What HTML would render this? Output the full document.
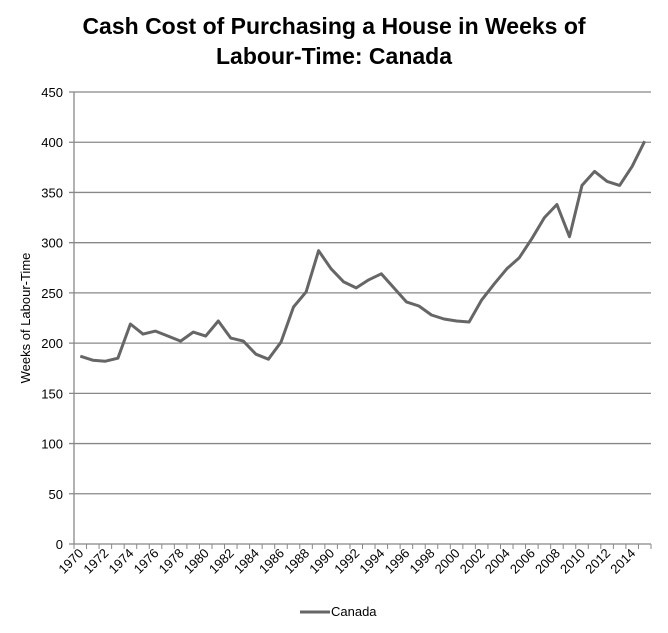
<!DOCTYPE html><html><head><style>body{margin:0;background:#fff}svg text{font-family:"Liberation Sans",sans-serif}</style></head><body>
<svg width="668" height="628" xmlns="http://www.w3.org/2000/svg">
<text x="334" y="34" text-anchor="middle" font-size="23" font-weight="bold">Cash Cost of Purchasing a House in Weeks of</text>
<text x="334" y="64" text-anchor="middle" font-size="23" font-weight="bold">Labour-Time: Canada</text>
<g id="g"></g>
<text transform="translate(30,318) rotate(-90)" text-anchor="middle" font-size="13">Weeks of Labour-Time</text>
<line x1="300" y1="612" x2="330" y2="612" stroke="#666" stroke-width="3"/>
<text x="331" y="616" font-size="13">Canada</text>
</svg>
<script>
const g=document.getElementById('g');let s='';
const Y=v=>544-v*1.0044;
for(let v=0;v<=450;v+=50){const y=Y(v);s+=`<line x1="69" x2="651" y1="${y}" y2="${y}" stroke="#888" stroke-width="1.3"/><text x="63" y="${y+5}" text-anchor="end" font-size="13">${v}</text>`;}
s+=`<line x1="74" x2="74" y1="92" y2="544" stroke="#888" stroke-width="1.3"/>`;
const w=577/46;
for(let i=0;i<=46;i++){const x=74+i*w;s+=`<line x1="${x}" x2="${x}" y1="544" y2="549" stroke="#888"/>`;}
for(let i=0;i<46;i+=2){const x=74+(i+0.5)*w+4;s+=`<text transform="translate(${x},554) rotate(-45)" text-anchor="end" font-size="13">${1970+i}</text>`;}
const d=[187,183,182,185,219,209,212,207,202,211,207,222,205,202,189,184,201,236,251,292,274,261,255,263,269,255,241,237,228,224,222,221,243,259,274,285,304,325,338,306,357,371,361,357,376,401];
s+=`<polyline fill="none" stroke="#666" stroke-width="3" stroke-linejoin="round" points="${d.map((v,i)=>(74+(i+0.5)*w).toFixed(1)+','+Y(v).toFixed(1)).join(' ')}"/>`;
g.innerHTML=s;
</script></body></html>
